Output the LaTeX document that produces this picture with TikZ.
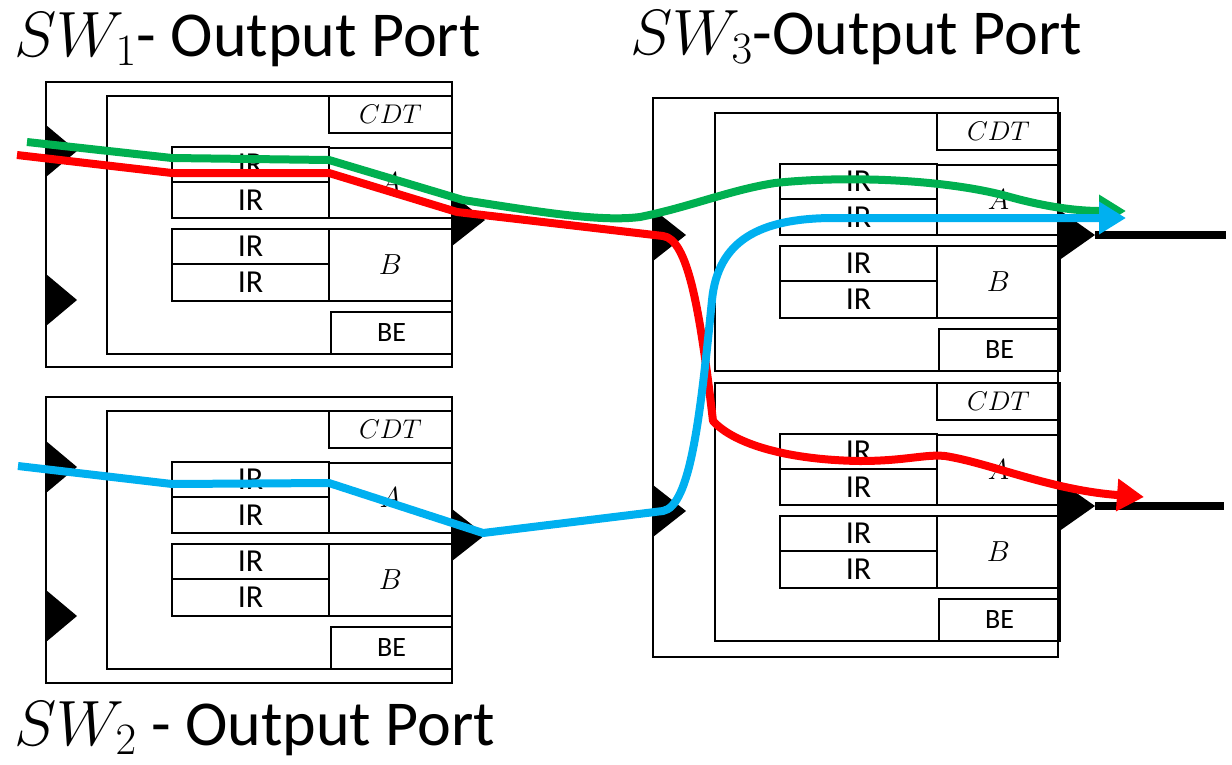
\RequirePackage{fix-cm}
\documentclass[tikz,border=0pt]{standalone}
\usepackage{fontspec}
\setmainfont{Carlito}
\usetikzlibrary{arrows.meta}

\definecolor{flowgreen}{HTML}{00B050}
\definecolor{flowred}{HTML}{FF0000}
\definecolor{flowblue}{HTML}{00B0F0}

\tikzset{
  frame/.style={draw, line width=2.6pt, inner sep=0pt, outer sep=0pt, anchor=north west},
  irbox/.style={frame, minimum width=157pt, font=\fontsize{32}{32}\selectfont},
  classbox/.style={frame, minimum width=123pt, font=\fontsize{29}{29}\selectfont},
  cdtbox/.style={frame, minimum width=123pt, minimum height=37pt, font=\fontsize{27}{27}\selectfont},
  bebox/.style={frame, minimum width=121pt, minimum height=42pt, font=\fontsize{28}{28}\selectfont},
  title/.style={anchor=base west, inner sep=0pt, font=\fontsize{64}{64}\selectfont},
  wire/.style={line width=8pt},
  flow/.style={line width=8pt, line join=round,
    -{Triangle[length=27pt, width=31pt]}},
}

% one queue block: name prefix, top-left corner
\newcommand\queueblock[3]{%
  \begin{scope}[shift={(#2,#3)}]
    \node[frame, minimum width=345pt, minimum height=258pt] (#1) at (0,0) {};
    \node[cdtbox] (#1cdt) at (222,0) {$CDT$};
    \node[irbox, minimum height=35pt] (#1ia) at (65,51) {IR};
    \node[irbox, minimum height=36pt] (#1ib) at (65,86) {IR};
    \node[classbox, minimum height=70pt] (#1a) at (222,52) {$A$};
    \node[irbox, minimum height=35pt] (#1ic) at (65,133) {IR};
    \node[irbox, minimum height=37pt] (#1id) at (65,168) {IR};
    \node[classbox, minimum height=72pt] (#1b) at (222,133) {$B$};
    \node[bebox] (#1be) at (224,216) {BE};
  \end{scope}}

% filled port triangle: tip name, x of base, y of centre, depth
\newcommand\porttri[4]{%
  \fill (#2,#3-26) -- (#2+#4,#3) -- (#2,#3+26) -- cycle;
  \coordinate (#1) at (#2+#4,#3);}

\begin{document}
\begin{tikzpicture}[x=1pt, y=-1pt]
  \useasboundingbox (0,0) rectangle (1232,764);

  % titles
  \node[title] (t1) at (14,56) {$SW_1$- Output Port};
  \node[title] (t3) at (630,54) {$SW_3$-Output Port};
  \node[title] (t2) at (14,745) {$SW_2$ - Output Port};

  % switch output ports
  \node[frame, minimum width=406pt, minimum height=285pt] (sw1) at (46,82) {};
  \node[frame, minimum width=406pt, minimum height=286pt] (sw2) at (46,397) {};
  \node[frame, minimum width=405pt, minimum height=559pt] (sw3) at (653,98) {};

  \queueblock{qa}{107}{96}
  \queueblock{qb}{107}{411}
  \queueblock{qc}{715}{113}
  \queueblock{qd}{715}{383}

  % port triangles
  \porttri{inA}{46}{151}{31}
  \porttri{inB}{46}{300}{31}
  \porttri{inC}{46}{467}{31}
  \porttri{inD}{46}{616}{31}
  \porttri{outA}{452}{220}{33}
  \porttri{outB}{452}{535}{33}
  \porttri{inE}{653}{235}{33}
  \porttri{inF}{653}{511}{33}
  \porttri{outC}{1058}{235}{37}
  \porttri{outD}{1058}{506}{37}

  % output links
  \coordinate (linkC) at (1226,235);
  \coordinate (linkD) at (1224,506);
  \draw[wire] (outC) -- (linkC);
  \draw[wire] (outD) -- (linkD);

  % flows
  \coordinate (gs) at (27,142);
  \coordinate (ge) at (1126,211);
  \coordinate (rs) at (17,155);
  \coordinate (re) at (1144,497);
  \coordinate (bs) at (18,466);
  \coordinate (be) at (1126,218);

  \draw[flow, flowgreen] (gs) -- (172,158) -- (329,160) -- (463,200)
    .. controls (540,212) and (600,222) .. (640,217)
    .. controls (690,207) and (730,190) .. (775,183)
    .. controls (850,175) and (950,180) .. (1010,197)
    .. controls (1050,208) and (1080,211) .. (ge);

  \draw[flow, flowred] (rs) -- (172,173) -- (329,173) -- (457,212) -- (663,236)
    .. controls (688,239) and (700,310) .. (713,421)
    .. controls (735,445) and (790,460) .. (860,461)
    .. controls (905,461) and (925,454) .. (945,456)
    .. controls (990,463) and (1050,490) .. (re);

  \draw[flow, flowblue] (bs) -- (172,484) -- (329,483) -- (483,533) -- (663,511)
    .. controls (690,506) and (700,420) .. (712,300)
    .. controls (718,240) and (760,219) .. (830,218) -- (be);
\end{tikzpicture}
\end{document}
